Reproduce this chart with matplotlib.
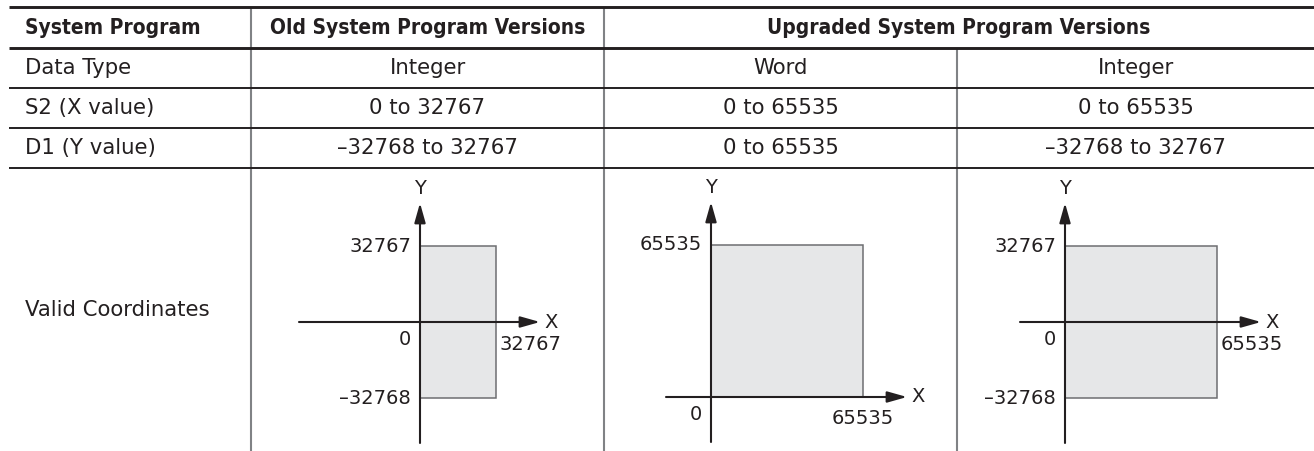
import matplotlib
matplotlib.use('Agg')
import matplotlib.pyplot as plt
from matplotlib.patches import Rectangle

## -- table content
col_headers = ["System Program", "Old System Program Versions",
               "Upgraded System Program Versions"]
row_labels = ["Data Type", "S2 (X value)", "D1 (Y value)", "Valid Coordinates"]
data_types = ["Integer", "Word", "Integer"]
x_ranges = [(0, 32767), (0, 65535), (0, 65535)]
y_ranges = [(-32768, 32767), (0, 65535), (-32768, 32767)]

## -- layout (pixels, y downwards)
W, H, DPI = 1314, 451, 100
PT = 72.0 / DPI                      # points per pixel
col_x = [9, 251, 604, 957, W]
row_y = [7, 48, 88, 128, 168, H]
origins = [(420, 322), (711, 397), (1065, 322)]   # axis origin of each sketch
x_back = [121, 45, 45]               # how far the x axis runs left of 0
S = 65535 / 152.0                    # data units per pixel in the sketches

DARK = '#231f20'
GRID = '#808285'
FILL = '#e6e7e8'
EDGE = '#6d6e71'

def fmt(v):
  return ('\u2013' + str(-v)) if v < 0 else str(v)

fig = plt.figure(figsize=(W / DPI, H / DPI), dpi=DPI)
fig.patch.set_facecolor('white')
ax = fig.add_axes([0, 0, 1, 1])
ax.set_xlim(0, W)
ax.set_ylim(H, 0)
ax.axis('off')

## -- grid lines
ax.vlines([col_x[1], col_x[2]], row_y[0], H, color=GRID, lw=1.5, zorder=1)
ax.vlines([col_x[3]], row_y[1], H, color=GRID, lw=1.5, zorder=1)
for j, y in enumerate(row_y[:-1]):
  ax.hlines(y, col_x[0], W, color=DARK, lw=2.1 if j < 2 else 1.4, zorder=2)

## -- header
hy = (row_y[0] + row_y[1]) / 2.0
hkw = dict(fontsize=15, fontweight='bold', fontstretch='condensed',
           color=DARK, va='center')
ax.text(25, hy, col_headers[0], ha='left', **hkw)
ax.text((col_x[1] + col_x[2]) / 2.0, hy, col_headers[1], ha='center', **hkw)
ax.text((col_x[2] + col_x[4]) / 2.0, hy, col_headers[2], ha='center', **hkw)

## -- body rows
cells = [data_types,
         ["%s to %s" % (fmt(a), fmt(b)) for a, b in x_ranges],
         ["%s to %s" % (fmt(a), fmt(b)) for a, b in y_ranges]]
bkw = dict(fontsize=15.3, color=DARK, va='center')
for r, lab in enumerate(row_labels):
  yc = (row_y[r + 1] + row_y[r + 2]) / 2.0
  ax.text(25, yc, lab, ha='left', **bkw)
  if r < 3:
    for c, txt in enumerate(cells[r]):
      xc = (col_x[c + 1] + col_x[c + 2]) / 2.0
      ax.text(xc, yc, txt, ha='center', **bkw)

## -- coordinate sketches
lkw = dict(fontsize=14, color=DARK, textcoords='offset points')
for i in range(3):
  cx0, cx1 = col_x[i + 1], col_x[i + 2]
  cy0, cy1 = row_y[4], row_y[5]
  ox, oy = origins[i]
  dax = fig.add_axes([cx0 / W, 1 - cy1 / H, (cx1 - cx0) / W, (cy1 - cy0) / H])
  dax.set_xlim((cx0 - ox) * S, (cx1 - ox) * S)
  dax.set_ylim((oy - cy1) * S, (oy - cy0) * S)
  dax.axis('off')
  xlo, xhi = x_ranges[i]
  ylo, yhi = y_ranges[i]
  dax.add_patch(Rectangle((xlo, ylo), xhi - xlo, yhi - ylo,
                          fc=FILL, ec=EDGE, lw=1.1, zorder=1))
  x_end = xhi + 44 * S
  y_end = yhi + 43 * S
  aprops = dict(arrowstyle='-|>,head_length=0.85,head_width=0.24', lw=1.5,
                color=DARK, shrinkA=0, shrinkB=0, mutation_scale=14)
  dax.annotate('', xy=(x_end, 0), xytext=(-x_back[i] * S, 0),
               arrowprops=aprops, zorder=3)
  dax.annotate('', xy=(0, y_end), xytext=(0, ylo - 45 * S),
               arrowprops=aprops, zorder=3)
  ## -- labels
  dax.annotate('Y', xy=(0, y_end), xytext=(0, 5 * PT), ha='center', va='bottom', **lkw)
  dax.annotate('X', xy=(x_end, 0), xytext=(4 * PT, 0), ha='left', va='center', **lkw)
  dax.annotate(fmt(yhi), xy=(0, yhi), xytext=(-9 * PT, 0), ha='right', va='center', **lkw)
  if ylo < 0:
    dax.annotate(fmt(ylo), xy=(0, ylo), xytext=(-9 * PT, 0), ha='right', va='center', **lkw)
  dax.annotate('0', xy=(0, 0), xytext=(-9 * PT, -8 * PT), ha='right', va='top', **lkw)
  if ylo == 0:
    dax.annotate(fmt(xhi), xy=(xhi, 0), xytext=(0, -12 * PT), ha='center', va='top', **lkw)
  else:
    dax.annotate(fmt(xhi), xy=(xhi, 0), xytext=(4 * PT, -13 * PT), ha='left', va='top', **lkw)

fig.savefig('out.png', dpi=DPI, facecolor='white')
